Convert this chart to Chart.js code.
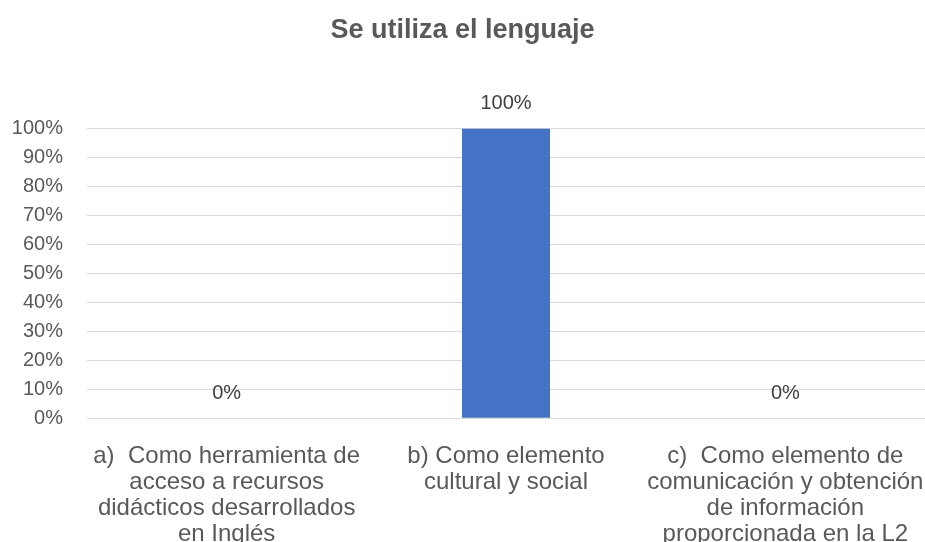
<!DOCTYPE html>
<html>
<head>
<meta charset="utf-8">
<script src="https://cdn.jsdelivr.net/npm/chart.js@4.4.0/dist/chart.umd.min.js"></script>
<style>
  html, body { margin: 0; padding: 0; background: #fff; }
  #wrap { width: 925px; height: 542px; }
</style>
</head>
<body>
<div id="wrap"><canvas id="usoChart"></canvas></div>
<script>
// Datos: uso del lenguaje (porcentaje de respuestas)
const categorias = [
    ['a)  Como herramienta de', 'acceso a recursos', 'didácticos desarrollados', 'en Inglés'],
    ['b) Como elemento', 'cultural y social'],
    ['c)  Como elemento de', 'comunicación y obtención', 'de información', 'proporcionada en la L2']
];
const porcentajes = [0, 100, 0];
const marcasEje = [0, 10, 20, 30, 40, 50, 60, 70, 80, 90, 100];

const fuente = '"Liberation Sans", Arial, sans-serif';

// Etiquetas de valor encima de cada barra
const etiquetasValor = {
    id: 'etiquetasValor',
    afterDatasetsDraw(chart) {
        const c = chart.ctx;
        const meta = chart.getDatasetMeta(0);
        c.save();
        c.font = '20px ' + fuente;
        c.fillStyle = '#404040';
        c.textAlign = 'center';
        c.textBaseline = 'middle';
        meta.data.forEach((bar, i) => {
            c.fillText(porcentajes[i] + '%', bar.x, bar.y - 25);
        });
        c.restore();
    }
};

const ctx = document.getElementById('usoChart').getContext('2d');
const usoChart = new Chart(ctx, {
    type: 'bar',
    data: {
        labels: categorias,
        datasets: [{
            label: 'Se utiliza el lenguaje',
            data: porcentajes,
            backgroundColor: '#4472C4',
            borderWidth: 0,
            categoryPercentage: 1,
            barPercentage: 0.315
        }]
    },
    options: {
        responsive: true,
        maintainAspectRatio: false,
        animation: false,
        layout: { padding: 0 },
        plugins: {
            legend: { display: false },
            tooltip: { enabled: false },
            title: {
                display: true,
                text: 'Se utiliza el lenguaje',
                color: '#595959',
                font: { family: fuente, size: 27, weight: 'bold' },
                padding: { top: 14, bottom: 82 }
            }
        },
        scales: {
            x: {
                grid: { display: false },
                border: { display: false },
                ticks: {
                    color: '#595959',
                    font: { family: fuente, size: 24, lineHeight: 1.083 },
                    padding: 17,
                    maxRotation: 0,
                    autoSkip: false
                },
                afterFit(scale) {
                    // el área de trazado llega hasta el borde derecho
                    scale.height = 123.7;
                    scale.paddingLeft = 0;
                    scale.paddingRight = 0;
                }
            },
            y: {
                min: 0,
                max: 100,
                afterBuildTicks(scale) {
                    scale.ticks = marcasEje.map(v => ({ value: v }));
                },
                grid: { color: '#d9d9d9', lineWidth: 1, drawTicks: false },
                border: { display: false },
                ticks: {
                    color: '#595959',
                    font: { family: fuente, size: 20 },
                    padding: 24,
                    callback: v => v + '%'
                },
                afterFit(scale) { scale.width = 87; }
            }
        }
    },
    plugins: [etiquetasValor]
});
</script>
</body>
</html>
